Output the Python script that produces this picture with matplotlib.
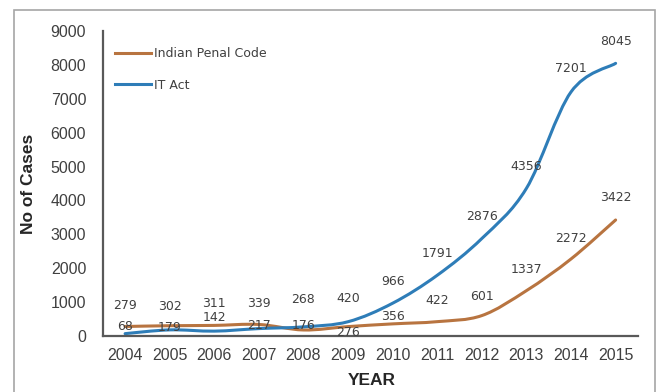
import matplotlib.pyplot as plt
from matplotlib.path import Path
from matplotlib.patches import PathPatch, Rectangle
from matplotlib.lines import Line2D

years = ['2004', '2005', '2006', '2007', '2008', '2009',
         '2010', '2011', '2012', '2013', '2014', '2015']
ipc_cases = [279, 302, 311, 339, 176, 276, 356, 422, 601, 1337, 2272, 3422]
it_cases = [68, 179, 142, 217, 268, 420, 966, 1791, 2876, 4356, 7201, 8045]

# vertical offsets (points) of the data labels, as placed in the original
ipc_label_dy = [15, 14, 15.5, 15, 3.5, -4, 5, 15.5, 14, 15.5, 15, 16.5]
it_label_dy = [5, 1.5, 9.5, 2, 19.5, 17, 15.5, 16, 15.5, 16, 17, 16]

BLUE = '#2E7DB8'
BROWN = '#B87440'
GRAY = '#404040'


def smooth_path(xs, ys):
    # Excel-style smoothed line: cubic Bezier through every point
    pts = list(zip(xs, ys))
    verts = [pts[0]]
    codes = [Path.MOVETO]
    n = len(pts)
    for i in range(n - 1):
        p0 = pts[max(i - 1, 0)]
        p1 = pts[i]
        p2 = pts[i + 1]
        p3 = pts[min(i + 2, n - 1)]
        c1 = (p1[0] + (p2[0] - p0[0]) / 6, p1[1] + (p2[1] - p0[1]) / 6)
        c2 = (p2[0] - (p3[0] - p1[0]) / 6, p2[1] - (p3[1] - p1[1]) / 6)
        verts += [c1, c2, p2]
        codes += [Path.CURVE4] * 3
    return Path(verts, codes)


fig = plt.figure(figsize=(6.59, 3.92), dpi=100)
ax = fig.add_axes([0.156, 0.143, 0.812, 0.778])

# outer chart border
fig.patches.append(Rectangle((14 / 659, -0.05), 641 / 659, 1.05 - 10 / 392,
                             transform=fig.transFigure, fill=False,
                             edgecolor='#A6A6A6', linewidth=1.2))

x = list(range(len(years)))
for vals, color in [(ipc_cases, BROWN), (it_cases, BLUE)]:
    ax.add_patch(PathPatch(smooth_path(x, vals), facecolor='none',
                           edgecolor=color, linewidth=2.2, capstyle='round'))

for vals, dys in [(ipc_cases, ipc_label_dy), (it_cases, it_label_dy)]:
    for xi, v, dy in zip(x, vals, dys):
        ax.annotate(str(v), (xi, v), xytext=(0, dy), textcoords='offset points',
                    ha='center', va='center', fontsize=9, color=GRAY,
                    family='DejaVu Sans')

ax.set_xlim(-0.5, len(years) - 0.5)
ax.set_ylim(0, 9000)
ax.set_xticks(x)
ax.set_xticklabels(years)
ax.set_yticks(range(0, 9001, 1000))
ax.tick_params(length=0, labelsize=11.5, colors=GRAY)
ax.tick_params(axis='y', pad=12)
ax.tick_params(axis='x', pad=9)
for lab in ax.get_xticklabels() + ax.get_yticklabels():
    lab.set_family('Liberation Sans')

for side in ['top', 'right']:
    ax.spines[side].set_visible(False)
for side in ['left', 'bottom']:
    ax.spines[side].set_color('#595959')
    ax.spines[side].set_linewidth(1.6)

ax.set_ylabel('No of Cases', fontsize=12.5, fontweight='bold',
              family='Liberation Sans', color='#262626')
ax.yaxis.set_label_coords(-0.125, 0.5)
ax.set_xlabel('YEAR', fontsize=12.5, fontweight='bold',
              family='Liberation Sans', color='#262626')
ax.xaxis.set_label_coords(0.503, -0.122)

handles = [Line2D([], [], color=BROWN, linewidth=2.2),
           Line2D([], [], color=BLUE, linewidth=2.2)]
fig.legend(handles, ['Indian Penal Code', 'IT Act'], loc='upper left',
           bbox_to_anchor=(115 / 659, 1 - 47 / 392), frameon=False,
           handlelength=2.9, handletextpad=0.25, labelspacing=1.5,
           borderpad=0, borderaxespad=0, labelcolor=GRAY,
           prop={'family': 'DejaVu Sans', 'size': 9})

plt.savefig('out.png', dpi=100)
